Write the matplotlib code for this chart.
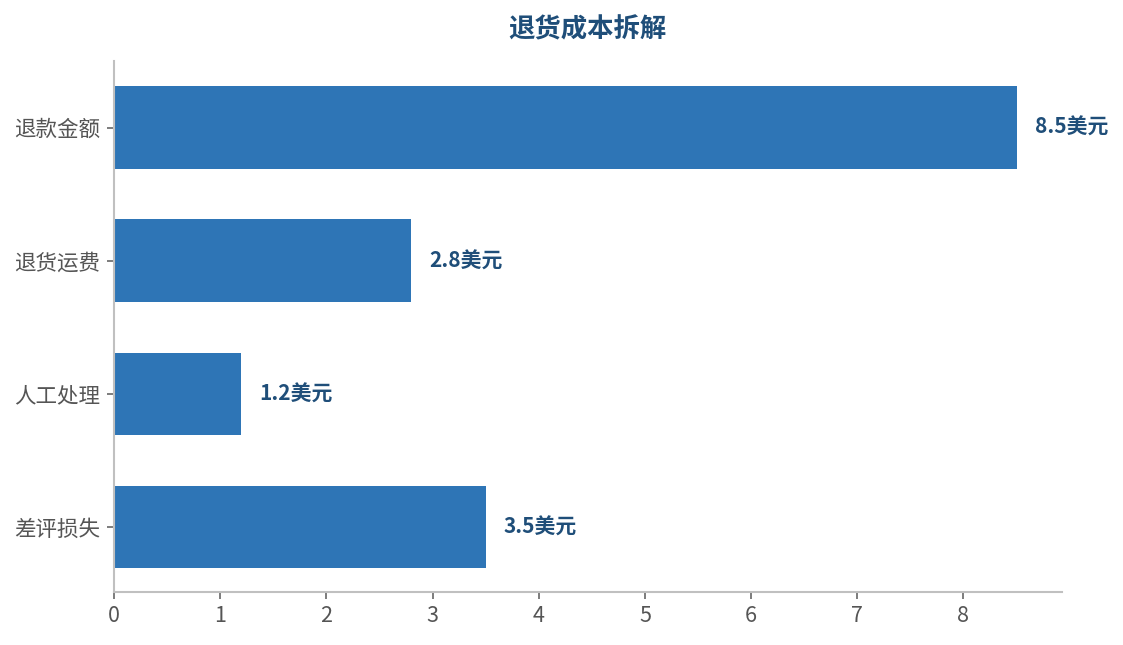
import matplotlib
matplotlib.use("Agg")
import matplotlib.pyplot as plt

plt.rcParams['font.family'] = ['Noto Sans CJK SC', 'DejaVu Sans']

categories = ["退款金额", "退货运费", "人工处理", "差评损失"]
values = [8.5, 2.8, 1.2, 3.5]
labels = ["8.5美元", "2.8美元", "1.2美元", "3.5美元"]
title = "退货成本拆解"

bar_color = "#2E75B6"
dark_blue = "#1F4E79"

fig = plt.figure(figsize=(11.23, 6.45), dpi=100)
ax = fig.add_axes([0.1015, 0.0817, 0.9454 - 0.1015, 0.9054 - 0.0817])

y = list(range(len(categories)))
ax.barh(y, values, height=0.62, color=bar_color)
for yi, v, lab in zip(y, values, labels):
    ax.text(v + 0.17, yi, lab, va="center", ha="left", fontsize=15, fontweight="bold", color=dark_blue)

ax.set_yticks(y)
ax.set_yticklabels(categories)
ax.set_ylim(3.49, -0.5)
ax.set_xlim(0, 8.925)
ax.set_xticks(range(0, 9))

for s in ["top", "right"]:
    ax.spines[s].set_visible(False)
for s in ["left", "bottom"]:
    ax.spines[s].set_color("#c0c0c0")
    ax.spines[s].set_linewidth(1.5)

ax.tick_params(axis="both", colors="#666666", labelcolor="#555555", length=5, width=1.2)
ax.tick_params(axis="y", pad=5, labelsize=15.5)
ax.tick_params(axis="x", pad=4, labelsize=15.5)

fig.suptitle(title, x=(0.1015 + 0.9454) / 2, y=0.975, va="top", fontsize=19, fontweight="bold", color=dark_blue)

fig.savefig("out.png", dpi=100)
